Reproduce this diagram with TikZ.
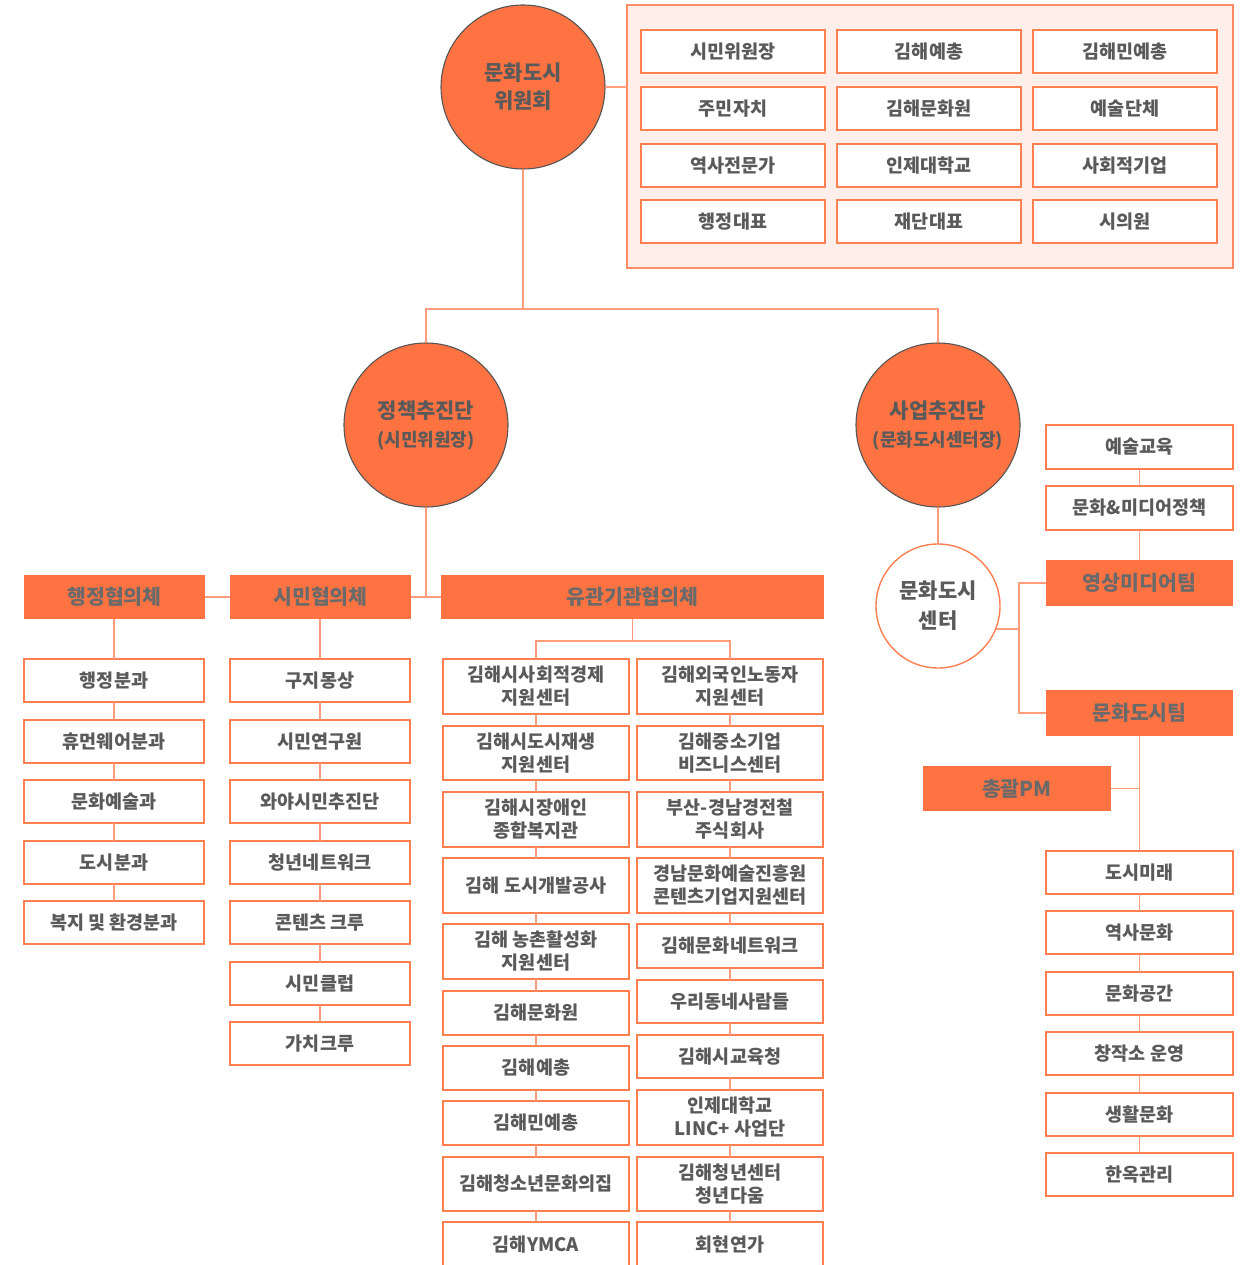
\documentclass[tikz,border=0pt]{standalone}
\usepackage{fontspec}
\setmainfont{Noto Sans CJK KR}
\definecolor{orng}{HTML}{FF7342}
\definecolor{boxc}{HTML}{FF7F50}
\definecolor{linec}{HTML}{FF9C7C}
\definecolor{panelf}{HTML}{FFEFEA}
\definecolor{panelb}{HTML}{FF8A66}
\definecolor{txt}{HTML}{5A5A5A}
\definecolor{htxt}{HTML}{6A6A6A}
\definecolor{cgray}{HTML}{555555}
\tikzset{
  box/.style={draw=boxc, line width=1.6pt, fill=white, inner sep=0pt, outer sep=0pt, text=txt, align=center, font=\fontsize{18.5}{23}\selectfont\bfseries},
  hdr/.style={fill=orng, draw=none, inner sep=0pt, outer sep=0pt, text=htxt, align=center, font=\fontsize{20.5}{24}\selectfont\bfseries},
  ln/.style={draw=linec, line width=1.8pt},
  bigc/.style={circle, fill=orng, draw=cgray, line width=1.1pt, inner sep=0pt, outer sep=0pt, minimum size=164pt, text=txt, align=center, font=\fontsize{21}{28}\selectfont\bfseries},
  whc/.style={circle, fill=white, draw=boxc, line width=1.4pt, inner sep=0pt, outer sep=0pt, minimum size=124pt, text=txt, align=center, font=\fontsize{21}{30}\selectfont\bfseries},
}
% \bx[style]{name}{x1}{y1}{x2}{y2}{text}
\newcommand\bx[7][box]{\node[#1, minimum width={(#5-#3)*1pt}, minimum height={(#6-#4)*1pt}] (#2) at ({(#3+#5)/2},{(#4+#6)/2}) {#7};}
\begin{document}
\begin{tikzpicture}[x=1pt,y=-1pt]
\useasboundingbox (0,0) rectangle (1246,1265);
\clip (0,0) rectangle (1246,1265);
\fill[white] (0,0) rectangle (1246,1265);

% top committee
\node[bigc] (wc) at (523,87) {문화도시\\위원회};
\node[draw=panelb, fill=panelf, line width=1.4pt, minimum width=606pt, minimum height=263pt, inner sep=0pt, outer sep=0pt] (panel) at (930,136.5) {};
\bx{m11}{641}{30}{825}{73}{시민위원장}
\bx{m12}{837}{30}{1021}{73}{김해예총}
\bx{m13}{1033}{30}{1217}{73}{김해민예총}
\bx{m21}{641}{87}{825}{130}{주민자치}
\bx{m22}{837}{87}{1021}{130}{김해문화원}
\bx{m23}{1033}{87}{1217}{130}{예술단체}
\bx{m31}{641}{144}{825}{187}{역사전문가}
\bx{m32}{837}{144}{1021}{187}{인제대학교}
\bx{m33}{1033}{144}{1217}{187}{사회적기업}
\bx{m41}{641}{200}{825}{243}{행정대표}
\bx{m42}{837}{200}{1021}{243}{재단대표}
\bx{m43}{1033}{200}{1217}{243}{시의원}
\draw[ln] (wc.east) -- (wc.east -| panel.west);

% second level
\node[bigc] (pc) at (426,425) {정책추진단\\{\fontsize{18}{24}\selectfont(시민위원장)}};
\node[bigc] (sc) at (938,425) {사업추진단\\{\fontsize{18}{24}\selectfont(문화도시센터장)}};
\coordinate (j1) at (523,309);
\draw[ln] (wc.south) -- (j1);
\draw[ln] (pc.north) -- (pc.north |- j1) -- (sc.north |- j1) -- (sc.north);

% headers
\bx[hdr]{h1}{24}{575}{205}{619}{행정협의체}
\bx[hdr]{h2}{230}{575}{411}{619}{시민협의체}
\bx[hdr]{h3}{441}{575}{824}{619}{유관기관협의체}
\draw[ln] (h1.east) -- (h2.west);
\draw[ln] (h2.east) -- (h3.west);
\draw[ln] (pc.south) -- (pc.south |- h2.east);

% 행정 column
\bx{a1}{24}{659}{204}{702}{행정분과}
\bx{a2}{24}{720}{204}{763}{휴먼웨어분과}
\bx{a3}{24}{780}{204}{823}{문화예술과}
\bx{a4}{24}{841}{204}{884}{도시분과}
\bx{a5}{24}{901}{204}{944}{복지 및 환경분과}
\draw[ln] (h1.south -| a1.north) -- (a1.north);
\draw[ln] (a1.south) -- (a2.north);
\draw[ln] (a2.south) -- (a3.north);
\draw[ln] (a3.south) -- (a4.north);
\draw[ln] (a4.south) -- (a5.north);

% 시민 column
\bx{b1}{230}{659}{410}{702}{구지몽상}
\bx{b2}{230}{720}{410}{763}{시민연구원}
\bx{b3}{230}{780}{410}{823}{와야시민추진단}
\bx{b4}{230}{841}{410}{884}{청년네트워크}
\bx{b5}{230}{901}{410}{944}{콘텐츠 크루}
\bx{b6}{230}{962}{410}{1005}{시민클럽}
\bx{b7}{230}{1022}{410}{1065}{가치크루}
\draw[ln] (h2.south -| b1.north) -- (b1.north);
\draw[ln] (b1.south) -- (b2.north);
\draw[ln] (b2.south) -- (b3.north);
\draw[ln] (b3.south) -- (b4.north);
\draw[ln] (b4.south) -- (b5.north);
\draw[ln] (b5.south) -- (b6.north);
\draw[ln] (b6.south) -- (b7.north);

% 유관 columns
\bx{c1}{443}{659}{629}{714}{김해시사회적경제\\지원센터}
\bx{c2}{443}{726}{629}{780}{김해시도시재생\\지원센터}
\bx{c3}{443}{792}{629}{847}{김해시장애인\\종합복지관}
\bx{c4}{443}{858}{629}{913}{김해 도시개발공사}
\bx{c5}{443}{924}{629}{979}{김해 농촌활성화\\지원센터}
\bx{c6}{443}{991}{629}{1035}{김해문화원}
\bx{c7}{443}{1046}{629}{1090}{김해예총}
\bx{c8}{443}{1101}{629}{1145}{김해민예총}
\bx{c9}{443}{1157}{629}{1211}{김해청소년문화의집}
\bx{c10}{443}{1222}{629}{1268}{김해YMCA}
\bx{d1}{637}{659}{823}{714}{김해외국인노동자\\지원센터}
\bx{d2}{637}{726}{823}{780}{김해중소기업\\비즈니스센터}
\bx{d3}{637}{792}{823}{847}{부산-경남경전철\\주식회사}
\bx{d4}{637}{858}{823}{913}{경남문화예술진흥원\\콘텐츠기업지원센터}
\bx{d5}{637}{924}{823}{968}{김해문화네트워크}
\bx{d6}{637}{980}{823}{1023}{우리동네사람들}
\bx{d7}{637}{1035}{823}{1078}{김해시교육청}
\bx{d8}{637}{1090}{823}{1145}{인제대학교\\LINC+ 사업단}
\bx{d9}{637}{1157}{823}{1211}{김해청년센터\\청년다움}
\bx{d10}{637}{1222}{823}{1268}{회현연가}
\coordinate (j2) at (632.5,641);
\draw[ln] (h3.south) -- (j2);
\draw[ln] (c1.north) -- (c1.north |- j2) -- (d1.north |- j2) -- (d1.north);
\foreach \i/\j in {1/2,2/3,3/4,4/5,5/6,6/7,7/8,8/9,9/10}{
  \draw[ln] (c\i.south) -- (c\j.north);
  \draw[ln] (d\i.south) -- (d\j.north);
}

% 사업 side
\node[whc] (cc) at (938,606) {문화도시\\센터};
\draw[ln] (sc.south) -- (cc.north);
\bx{e1}{1046}{425}{1233}{469}{예술교육}
\bx{e2}{1046}{486}{1233}{530}{문화\&미디어정책}
\bx[hdr]{t1}{1046}{560}{1233}{606}{영상미디어팀}
\bx[hdr]{t2}{1046}{690}{1233}{736}{문화도시팀}
\draw[ln] (e1.south) -- (e2.north);
\draw[ln] (e2.south) -- (t1.north);
\coordinate (cj) at (1019,629);
\draw[ln] (cc.-22) -- (cc.-22 -| cj);
\draw[ln] (t1.west) -- (t1.west -| cj) -- (t2.west -| cj) -- (t2.west);
\bx[hdr]{pm}{923}{766}{1111}{811}{총괄PM}
\bx{r1}{1046}{851}{1233}{894}{도시미래}
\bx{r2}{1046}{911}{1233}{954}{역사문화}
\bx{r3}{1046}{972}{1233}{1015}{문화공간}
\bx{r4}{1046}{1032}{1233}{1075}{창작소 운영}
\bx{r5}{1046}{1093}{1233}{1136}{생활문화}
\bx{r6}{1046}{1153}{1233}{1196}{한옥관리}
\draw[ln] (t2.south) -- (r1.north);
\draw[ln] (pm.east) -- (pm.east -| t2.south);
\draw[ln] (r1.south) -- (r2.north);
\draw[ln] (r2.south) -- (r3.north);
\draw[ln] (r3.south) -- (r4.north);
\draw[ln] (r4.south) -- (r5.north);
\draw[ln] (r5.south) -- (r6.north);
\end{tikzpicture}
\end{document}
